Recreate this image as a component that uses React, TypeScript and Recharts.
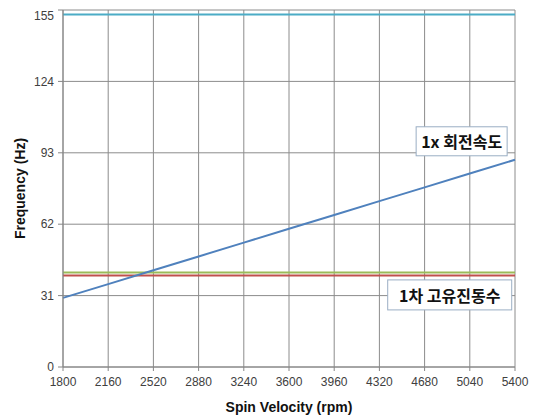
import React from 'react';
import { LineChart, Line, XAxis, YAxis, CartesianGrid, ReferenceDot } from 'recharts';

const rpm = [1800, 2160, 2520, 2880, 3240, 3600, 3960, 4320, 4680, 5040, 5400];
const spin1x = [30, 36, 42, 48, 54, 60, 66, 72, 78, 84, 90];
const topMode = [153, 153, 153, 153, 153, 153, 153, 153, 153, 153, 153];
const modeUpper = [41, 41, 41, 41, 41, 41, 41, 41, 41, 41, 41];
const modeLower = [39.7, 39.7, 39.7, 39.7, 39.7, 39.7, 39.7, 39.7, 39.7, 39.7, 39.7];
const yTicks = [0, 31, 62, 93, 124, 155];

const label1 = { x: 4975, y: 98, text: '1x 회전속도', w: 91, h: 29 };
const label2 = { x: 4880, y: 31.3, text: '1차 고유진동수', w: 124, h: 30 };

const data = rpm.map((r, i) => ({
  rpm: r,
  spin: spin1x[i],
  top: topMode[i],
  upper: modeUpper[i],
  lower: modeLower[i],
}));

const tickFont = { fontFamily: 'Liberation Sans, Arial, sans-serif', fontSize: 12, fill: '#404040' };

const boxShape = (lab: { text: string; w: number; h: number }) => (props: any) => {
  const { cx, cy } = props;
  return (
    <g>
      <rect x={cx - lab.w / 2} y={cy - lab.h / 2} width={lab.w} height={lab.h} fill="#ffffff" stroke="#9aaec4" strokeWidth={1} />
      <text
        x={cx}
        y={cy}
        textAnchor="middle"
        dominantBaseline="central"
        fontFamily="'Noto Sans CJK KR', sans-serif"
        fontWeight="bold"
        fontSize={16}
        fill="#111"
      >
        {lab.text}
      </text>
    </g>
  );
};

export default function App() {
  return (
    <LineChart width={537} height={408} data={data} margin={{ top: 2, right: 30, left: 0, bottom: 0 }}>
      <CartesianGrid stroke="#8c8c8c" strokeWidth={1} />
      <XAxis
        dataKey="rpm"
        type="number"
        domain={[1800, 5400]}
        ticks={rpm}
        tickSize={4}
        tickMargin={6}
        tick={tickFont}
        stroke="#868686"
        height={49}
        label={{
          value: 'Spin Velocity (rpm)',
          position: 'insideBottom',
          offset: 4,
          style: { fontFamily: 'Liberation Sans, Arial, sans-serif', fontSize: 14, fontWeight: 'bold', fill: '#111' },
        }}
      />
      <YAxis
        type="number"
        domain={[0, 155]}
        ticks={yTicks}
        tickSize={5}
        tickMargin={4}
        tick={tickFont}
        stroke="#868686"
        width={55}
        label={{
          value: 'Frequency (Hz)',
          content: (p: any) => {
            const vb = p.viewBox;
            const x = vb.x + 12;
            const y = vb.y + vb.height / 2;
            return (
              <text
                x={x}
                y={y}
                transform={`rotate(-90 ${x} ${y})`}
                textAnchor="middle"
                dominantBaseline="central"
                fontFamily="Liberation Sans, Arial, sans-serif"
                fontSize={14}
                fontWeight="bold"
                fill="#111"
              >
                Frequency (Hz)
              </text>
            );
          },
        }}
      />
      <Line dataKey="top" stroke="#4BACC6" strokeWidth={2} dot={false} isAnimationActive={false} />
      <Line dataKey="upper" stroke="#9BBB59" strokeWidth={2} dot={false} isAnimationActive={false} />
      <Line dataKey="lower" stroke="#C0504D" strokeWidth={2} dot={false} isAnimationActive={false} />
      <Line dataKey="spin" stroke="#4F81BD" strokeWidth={2} dot={false} isAnimationActive={false} />
      <ReferenceDot x={label1.x} y={label1.y} r={0} shape={boxShape(label1)} />
      <ReferenceDot x={label2.x} y={label2.y} r={0} shape={boxShape(label2)} />
    </LineChart>
  );
}
